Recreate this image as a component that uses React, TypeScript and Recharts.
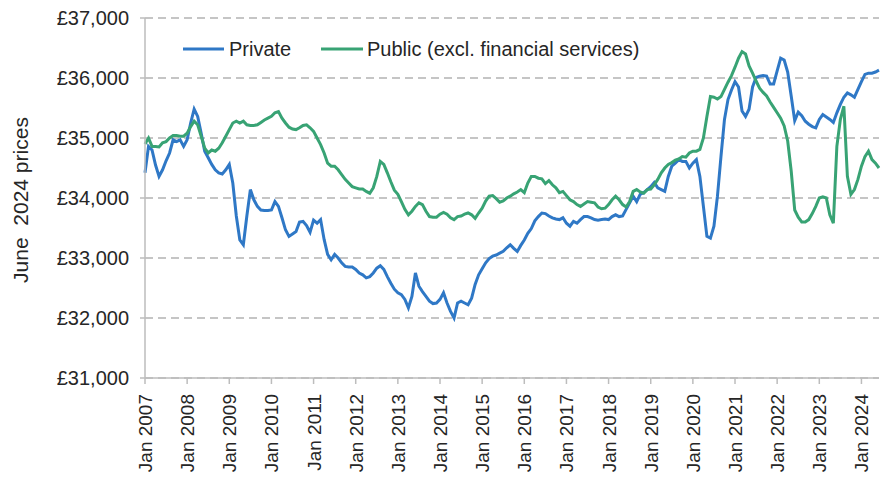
import { LineChart, Line, XAxis, YAxis, CartesianGrid } from 'recharts';

// monthly, Jan 2007 - Jun 2024, June 2024 prices
const startYear = 2007;
const monthNames = ['Jan', 'Feb', 'Mar', 'Apr', 'May', 'Jun', 'Jul', 'Aug', 'Sep', 'Oct', 'Nov', 'Dec'];
const tickYears = [2007, 2008, 2009, 2010, 2011, 2012, 2013, 2014, 2015, 2016, 2017, 2018, 2019, 2020, 2021, 2022, 2023, 2024];
const yTicks = [31000, 32000, 33000, 34000, 35000, 36000, 37000];

const privatePay = [
  34420, 34860, 34800, 34550, 34360, 34470, 34620, 34750, 34970, 34940, 34970, 34860,
  34970, 35250, 35480, 35360, 35080, 34780, 34670, 34560, 34470, 34420, 34400, 34470,
  34560, 34250, 33700, 33300, 33220, 33700, 34140, 33970, 33860, 33800, 33790, 33790,
  33800, 33940, 33860, 33670, 33470, 33360, 33400, 33440, 33600, 33610, 33540, 33430,
  33630, 33580, 33640, 33310, 33060, 32970, 33060, 33000, 32920, 32860, 32850, 32850,
  32810, 32750, 32720, 32670, 32690, 32750, 32830, 32870, 32810, 32690, 32580, 32480,
  32420, 32390, 32310, 32170, 32360, 32750, 32530, 32440, 32360, 32280, 32240, 32250,
  32310, 32420, 32250, 32110, 32000, 32250, 32280, 32250, 32220, 32330, 32560, 32720,
  32820, 32920, 32990, 33030, 33050, 33080, 33110, 33170, 33220, 33160, 33110, 33210,
  33300, 33410, 33490, 33620, 33690, 33750, 33740, 33700, 33670, 33650, 33640, 33670,
  33580, 33530, 33610, 33580, 33640, 33690, 33690, 33670, 33640, 33630, 33640, 33650,
  33640, 33690, 33720, 33690, 33700, 33810, 33920, 34030, 33940, 34060, 34090, 34140,
  34190, 34260, 34170, 34140, 34110, 34360, 34530, 34580, 34640, 34610, 34610, 34500,
  34580, 34640, 34360, 33860, 33360, 33330, 33530, 34030, 34690, 35310, 35640, 35800,
  35940, 35850, 35450, 35360, 35480, 35850, 36010, 36030, 36040, 36030, 35900, 35900,
  36120, 36330, 36300, 36100, 35700, 35290, 35430, 35370, 35280, 35230, 35190, 35170,
  35310, 35390, 35350, 35310, 35260, 35420, 35560, 35680, 35750, 35720, 35680, 35810,
  35940, 36060, 36080, 36080, 36100, 36130,
];

const publicPay = [
  34900, 35000, 34860, 34860, 34850, 34920, 34940, 35000, 35040, 35040, 35030, 35030,
  35080, 35190, 35280, 35220, 35030, 34830, 34750, 34800, 34780, 34830, 34920, 35030,
  35140, 35250, 35280, 35250, 35280, 35220, 35210, 35210, 35220, 35260, 35300, 35330,
  35360, 35420, 35440, 35330, 35250, 35180, 35150, 35140, 35170, 35210, 35220, 35170,
  35110, 35000, 34890, 34750, 34580, 34530, 34530, 34470, 34390, 34310, 34250, 34190,
  34170, 34150, 34150, 34110, 34080, 34170, 34360, 34610, 34560, 34420, 34270, 34130,
  34060, 33940, 33810, 33720, 33780, 33860, 33920, 33890, 33780, 33690, 33680, 33680,
  33730, 33760, 33730, 33670, 33640, 33690, 33700, 33730, 33750, 33720, 33660, 33750,
  33830, 33950, 34030, 34040, 33990, 33930, 33950, 34000, 34030, 34070, 34100, 34140,
  34090, 34250, 34360, 34360, 34330, 34320, 34240, 34290, 34220, 34170, 34090, 34110,
  34040, 33970, 33940, 33890, 33860, 33900, 33940, 33930, 33920, 33850, 33820, 33830,
  33890, 33970, 34030, 33970, 33890, 33850, 33940, 34110, 34140, 34100, 34080, 34140,
  34150, 34220, 34310, 34420, 34500, 34560, 34590, 34630, 34650, 34690, 34680, 34750,
  34780, 34780, 34810, 35000, 35360, 35690, 35680, 35650, 35690, 35810, 35930, 36040,
  36180, 36330, 36440, 36400, 36200, 36080, 35950, 35830, 35760, 35700, 35600, 35510,
  35420, 35330, 35200, 34950, 34450, 33800, 33680, 33600, 33600, 33640, 33740, 33860,
  34000, 34020, 34000, 33720, 33580, 34860, 35310, 35530, 34360, 34060, 34140, 34310,
  34530, 34690, 34780, 34640, 34580, 34500,
];

const data = privatePay.map((v, i) => ({
  idx: i,
  month: `${monthNames[i % 12]} ${startYear + Math.floor(i / 12)}`,
  private: v,
  public: publicPay[i],
}));
const xTicks = tickYears.map((y) => (y - startYear) * 12);

const FONT = '"Liberation Sans", Arial, sans-serif';
const TEXT = '#262626';
const BLUE = '#2f78c6';
const GREEN = '#38a374';
const AXIS = '#bdbdbd';

function XTick({ x, y, payload }: any) {
  const label = `Jan ${startYear + Math.round(payload.value / 12)}`;
  return (
    <text x={x} y={y} dy={7} transform={`rotate(-90 ${x} ${y})`} textAnchor="end"
      fill={TEXT} fontSize={19} fontFamily={FONT}>
      {label}
    </text>
  );
}

const YLabel = () => (
  <text x={28} y={200} transform="rotate(-90 28 200)" textAnchor="middle"
    fill={TEXT} fontSize={21} fontFamily={FONT} style={{ whiteSpace: 'pre' }}>
    {'June  2024 prices'}
  </text>
);

export default function App() {
  return (
    <div style={{ position: 'absolute', left: 0, top: 0, width: 890, height: 492, background: '#fff' }}>
      <LineChart width={890} height={492} data={data} margin={{ top: 18, right: 11, left: 0, bottom: 0 }}>
        <CartesianGrid vertical={false} stroke="#b3b3b3" strokeWidth={1.6} strokeDasharray="8 5" />
        <XAxis dataKey="idx" type="number" domain={[0, 209]} ticks={xTicks} interval={0}
          height={114} tickSize={6} tickMargin={10} stroke={AXIS} strokeWidth={1.5} tick={<XTick />} />
        <YAxis domain={[31000, 37000]} ticks={yTicks} width={145} tickSize={5} tickMargin={11}
          stroke={AXIS} strokeWidth={1.5}
          tick={{ fill: TEXT, fontSize: 20, fontFamily: FONT }}
          tickFormatter={(v: number) => '£' + v.toLocaleString('en-GB')}
          label={{ value: 'June  2024 prices', content: YLabel }} />
        <Line type="linear" dataKey="private" name="Private" stroke={BLUE} strokeWidth={3}
          dot={false} activeDot={false} isAnimationActive={false} />
        <Line type="linear" dataKey="public" name="Public (excl. financial services)" stroke={GREEN} strokeWidth={3}
          dot={false} activeDot={false} isAnimationActive={false} />
      </LineChart>
      <svg width={890} height={70} style={{ position: 'absolute', left: 0, top: 0 }}>
        <line x1={183} x2={224} y1={49} y2={49} stroke={BLUE} strokeWidth={3} />
        <text x={229} y={56} fill={TEXT} fontSize={20} fontFamily={FONT}>Private</text>
        <line x1={321} x2={363} y1={49} y2={49} stroke={GREEN} strokeWidth={3} />
        <text x={367} y={56} fill={TEXT} fontSize={20} fontFamily={FONT}>Public (excl. financial services)</text>
      </svg>
    </div>
  );
}
